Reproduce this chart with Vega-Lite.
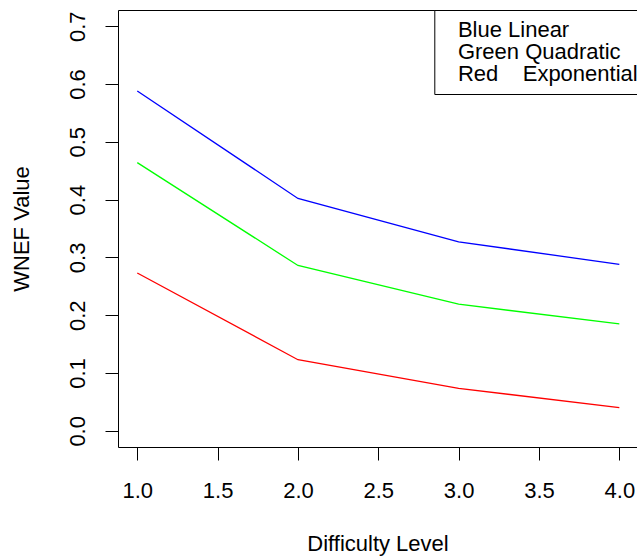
{
  "$schema": "https://vega.github.io/schema/vega-lite/v6.json",
  "autosize": "none",
  "width": 519,
  "height": 437,
  "padding": {"left": 118, "top": 10, "right": 0, "bottom": 111},
  "background": "white",
  "config": {
    "font": "Liberation Sans",
    "view": {"stroke": null},
    "axis": {
      "grid": false,
      "domainColor": "black",
      "domainWidth": 1,
      "tickColor": "black",
      "tickWidth": 1,
      "tickSize": 13,
      "labelColor": "black",
      "labelFontSize": 22,
      "labelFont": "Liberation Sans",
      "titleFont": "Liberation Sans",
      "titleFontSize": 22,
      "titleFontWeight": "normal",
      "titleColor": "black",
      "labelFlush": false,
      "labelOverlap": false
    }
  },
  "data": {
    "values": [
      {"level": 1, "wnef": 0.588, "series": "Blue Linear"},
      {"level": 2, "wnef": 0.402, "series": "Blue Linear"},
      {"level": 3, "wnef": 0.327, "series": "Blue Linear"},
      {"level": 4, "wnef": 0.288, "series": "Blue Linear"},
      {"level": 1, "wnef": 0.464, "series": "Green Quadratic"},
      {"level": 2, "wnef": 0.286, "series": "Green Quadratic"},
      {"level": 3, "wnef": 0.219, "series": "Green Quadratic"},
      {"level": 4, "wnef": 0.185, "series": "Green Quadratic"},
      {"level": 1, "wnef": 0.273, "series": "Red Exponential"},
      {"level": 2, "wnef": 0.123, "series": "Red Exponential"},
      {"level": 3, "wnef": 0.0735, "series": "Red Exponential"},
      {"level": 4, "wnef": 0.040, "series": "Red Exponential"}
    ]
  },
  "layer": [
    {
      "mark": {"type": "line", "strokeWidth": 1.3},
      "encoding": {
        "x": {
          "field": "level", "type": "quantitative",
          "scale": {"domain": [0.88, 4.11], "nice": false, "zero": false},
          "axis": {
            "orient": "bottom",
            "values": [1, 1.5, 2, 2.5, 3, 3.5, 4],
            "format": ".1f",
            "labelBaseline": "alphabetic",
            "labelPadding": 37,
            "title": "Difficulty Level",
            "titleBaseline": "alphabetic",
            "titlePadding": 49
          }
        },
        "y": {
          "field": "wnef", "type": "quantitative",
          "scale": {"domain": [-0.028, 0.728], "nice": false, "zero": false},
          "axis": {
            "values": [0, 0.1, 0.2, 0.3, 0.4, 0.5, 0.6, 0.7],
            "format": ".1f",
            "labelAngle": -90,
            "labelAlign": "center",
            "labelBaseline": "alphabetic",
            "labelPadding": 21,
            "title": "WNEF Value",
            "titleBaseline": "alphabetic",
            "titlePadding": 38
          }
        },
        "color": {
          "field": "series", "type": "nominal",
          "scale": {"domain": ["Blue Linear", "Green Quadratic", "Red Exponential"], "range": ["#0000ff", "#00ff00", "#ff0000"]},
          "legend": {
            "title": null,
            "orient": "none",
            "legendX": 316.3,
            "legendY": 0,
            "strokeColor": "black",
            "fillColor": "white",
            "padding": 9,
            "symbolType": "circle",
            "symbolSize": 1,
            "symbolOpacity": 0,
            "symbolStrokeWidth": 0,
            "labelOffset": -7.4,
            "labelFontSize": 22,
            "labelColor": "black",
            "labelFont": "Liberation Sans",
            "labelLimit": 400,
            "rowPadding": -3,
            "labelExpr": "replace(datum.label, 'Red ', 'Red\u00a0\u00a0\u00a0\u00a0')"
          }
        }
      }
    },
    {
      "mark": {"type": "line", "opacity": 0},
      "encoding": {
        "x": {
          "field": "level", "type": "quantitative",
          "axis": {"orient": "top", "labels": false, "ticks": false, "title": null, "domainColor": "black"}
        },
        "y": {"field": "wnef", "type": "quantitative", "axis": null},
        "detail": {"field": "series"}
      }
    }
  ],
  "resolve": {"axis": {"x": "independent", "y": "independent"}}
}
